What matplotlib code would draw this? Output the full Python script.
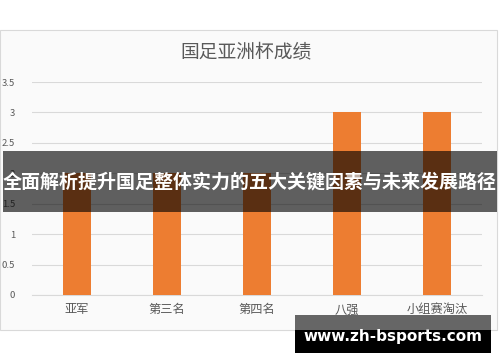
import matplotlib.pyplot as plt
from matplotlib.patches import Rectangle

plt.rcParams['font.family'] = ['Noto Sans CJK SC', 'DejaVu Sans']

# ---------- data ----------
categories = ['亚军', '第三名', '第四名', '八强', '小组赛淘汰']
results = [2, 2, 2, 3, 3]
yticks = [0, 0.5, 1, 1.5, 2, 2.5, 3, 3.5]

fig = plt.figure(figsize=(5, 3.62), dpi=100)
W, H = 500, 362

# light chart panel behind the plot
fig.patches.append(Rectangle((0, 1 - 330 / H), 497 / W, 300 / H, transform=fig.transFigure,
                             facecolor='#fafafa', edgecolor='#d9d9d9', lw=0.8, zorder=-1))

ax = fig.add_axes([32 / W, 1 - 295 / H, 450 / W, 213 / H])
ax.set_facecolor('none')
ax.bar(range(len(categories)), results, width=0.31, color='#ED7D31', zorder=3)
ax.set_xlim(-0.5, len(categories) - 0.5)
ax.set_ylim(0, 3.5)
ax.set_yticks(yticks)
ax.set_yticklabels(['0', '0.5', '1', '1.5', '2', '2.5', '3', '3.5'])
ax.set_xticks(range(len(categories)))
ax.set_xticklabels(categories, fontsize=8.8, color='#595959')
ax.tick_params(axis='y', labelsize=6.8, colors='#595959', length=0, pad=12)
ax.tick_params(axis='x', length=0, pad=6)
ax.grid(axis='y', color='#d9d9d9', lw=0.8, zorder=0)
for s in ['top', 'right', 'left']:
    ax.spines[s].set_visible(False)
ax.spines['bottom'].set_color('#d9d9d9')

fig.text(0.5 - 4 / W, 1 - 53 / H, '国足亚洲杯成绩', ha='center', va='center',
         fontsize=13.5, color='#595959')

# overlay banner
fig.patches.append(Rectangle((3 / W, 1 - 212 / H), 494 / W, 61 / H, transform=fig.transFigure,
                             facecolor='black', alpha=0.62, zorder=5))
fig.text(0.5, 1 - 182 / H, '全面解析提升国足整体实力的五大关键因素与未来发展路径',
         ha='center', va='center', fontsize=13.7, color='white', fontweight='bold', zorder=6)

# watermark
fig.patches.append(Rectangle((295 / W, 1 - 353 / H), 196 / W, 38 / H, transform=fig.transFigure,
                             facecolor='black', zorder=5))
fig.patches.append(Rectangle((295 / W, 1 - 330 / H), 196 / W, 15 / H, transform=fig.transFigure,
                             facecolor='#666666', zorder=5))
fig.text(393 / W, 1 - 337 / H, 'www.zh-bsports.com', ha='center', va='center',
         fontsize=11, color='white', fontweight='bold', family='DejaVu Sans', zorder=6)

fig.savefig('out.png', dpi=100)
